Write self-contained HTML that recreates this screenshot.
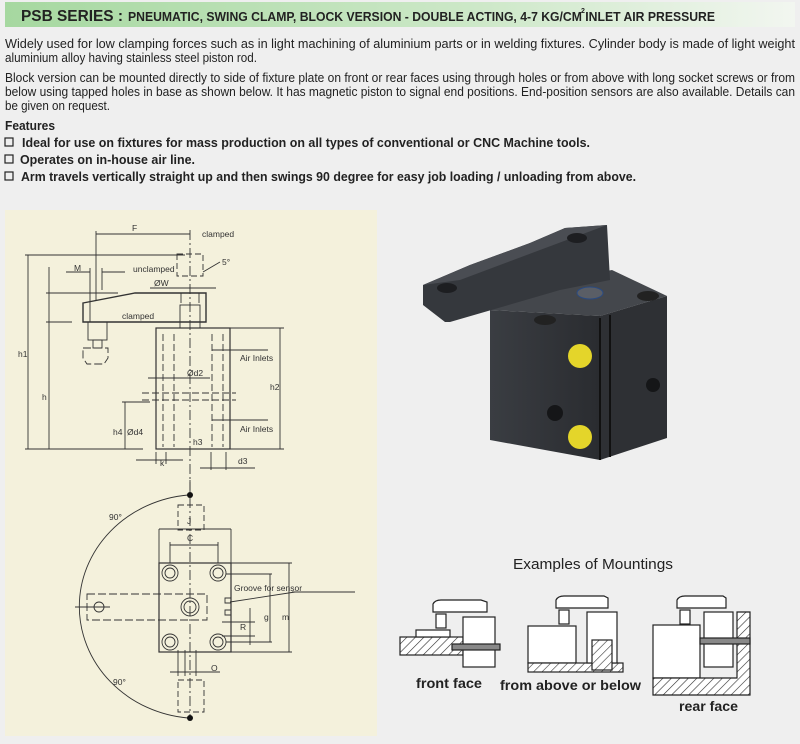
<!DOCTYPE html>
<html><head><meta charset="utf-8"><style>
html,body{margin:0;padding:0;background:#efefef}
svg{display:block}
text{font-family:"Liberation Sans",sans-serif;fill:#222}
.b{font-weight:bold}
.d{font-size:8.5px;fill:#333}
</style></head><body>
<svg width="800" height="744" viewBox="0 0 800 744" xmlns="http://www.w3.org/2000/svg">
<defs>
<linearGradient id="g" x1="0" x2="1"><stop offset="0" stop-color="#a6d8a0"/><stop offset="0.6" stop-color="#cde8c8"/><stop offset="1" stop-color="#f2f6f0"/></linearGradient>
<pattern id="h" width="6" height="6" patternUnits="userSpaceOnUse" patternTransform="rotate(45)"><rect width="6" height="6" fill="#fff"/><line x1="0" y1="0" x2="0" y2="6" stroke="#333" stroke-width="1.2"/></pattern>
<linearGradient id="bf" x1="0" x2="1"><stop offset="0" stop-color="#3a3d42"/><stop offset="1" stop-color="#2a2c30"/></linearGradient>
</defs>
<rect width="800" height="744" fill="#efefef"/>
<rect x="5" y="2" width="790" height="25" fill="url(#g)"/>
<text x="21" y="21" class="b" font-size="15.5" textLength="102" lengthAdjust="spacingAndGlyphs">PSB SERIES :</text>
<text x="128" y="21" class="b" font-size="13" textLength="587" lengthAdjust="spacingAndGlyphs">PNEUMATIC, SWING CLAMP, BLOCK VERSION - DOUBLE ACTING, 4-7 KG/CM  INLET AIR PRESSURE</text>
<text x="581" y="13" class="b" font-size="7">2</text>
<g font-size="12.5">
<text x="5" y="48" textLength="790" lengthAdjust="spacingAndGlyphs">Widely used for low clamping forces such as in light machining of aluminium parts or in welding fixtures. Cylinder body is made of light weight</text>
<text x="5" y="62" textLength="252" lengthAdjust="spacingAndGlyphs">aluminium alloy having stainless steel piston rod.</text>
<text x="5" y="82" textLength="790" lengthAdjust="spacingAndGlyphs">Block version can be mounted directly to side of fixture plate on front or rear faces using through holes or from above with long socket screws or from</text>
<text x="5" y="96" textLength="790" lengthAdjust="spacingAndGlyphs">below using tapped holes in base as shown below. It has magnetic piston to signal end positions. End-position sensors are also available. Details can</text>
<text x="5" y="110" textLength="105" lengthAdjust="spacingAndGlyphs">be given on request.</text>
<text x="5" y="130" class="b" textLength="50" lengthAdjust="spacingAndGlyphs">Features</text>
<text x="22" y="147" class="b" textLength="568" lengthAdjust="spacingAndGlyphs">Ideal for use on fixtures for mass production on all types of conventional or CNC Machine tools.</text>
<text x="20" y="164" class="b" textLength="175" lengthAdjust="spacingAndGlyphs">Operates on in-house air line.</text>
<text x="21" y="181" class="b" textLength="615" lengthAdjust="spacingAndGlyphs">Arm travels vertically straight up and then swings 90 degree for easy job loading / unloading from above.</text>
</g>
<g fill="none" stroke="#222" stroke-width="1.2">
<rect x="5" y="138" width="8" height="8"/><rect x="5" y="155" width="8" height="8"/><rect x="5" y="172" width="8" height="8"/>
</g>

<rect x="5" y="210" width="372" height="526" fill="#f4f1dc"/>
<g fill="none" stroke="#333" stroke-width="0.9">
<line x1="96" y1="234" x2="190" y2="234"/><line x1="96" y1="231" x2="96" y2="300"/>
<line x1="25" y1="255" x2="185" y2="255"/><line x1="28" y1="255" x2="28" y2="449"/>
<line x1="49" y1="267" x2="49" y2="449"/>
<line x1="25" y1="449" x2="143" y2="449"/>
<line x1="66" y1="272" x2="90" y2="272"/><line x1="102" y1="272" x2="125" y2="272"/>
<line x1="90" y1="268" x2="90" y2="322"/><line x1="102" y1="268" x2="102" y2="290"/>
<line x1="46" y1="293" x2="118" y2="293"/><line x1="46" y1="322" x2="72" y2="322"/>
<line x1="150" y1="288" x2="216" y2="288"/>
<path d="M83 303 L135 293 L206 293 L206 322 L83 322 Z" stroke-width="1.4"/>
<rect x="88" y="322" width="19" height="18"/><rect x="93" y="340" width="9" height="8"/>
<path d="M83 348 L108 348 L108 358 L104 364 L87 364 L83 358 Z" stroke-dasharray="8 3"/>
<rect x="177" y="254" width="26" height="22" stroke-dasharray="6 3"/>
<rect x="180" y="305" width="20" height="23"/>
<line x1="181" y1="293" x2="181" y2="303"/><line x1="199" y1="293" x2="199" y2="303"/>
<line x1="203" y1="272" x2="220" y2="262"/>
<rect x="156" y="328" width="74" height="121" stroke-width="1.2"/>
<g stroke-dasharray="7 3">
<line x1="163" y1="334" x2="163" y2="447"/><line x1="174" y1="334" x2="174" y2="447"/>
<line x1="212" y1="334" x2="212" y2="447"/><line x1="223" y1="334" x2="223" y2="447"/>
<line x1="142" y1="400" x2="236" y2="400"/><line x1="142" y1="393" x2="236" y2="393"/>
</g>
<line x1="190" y1="230" x2="190" y2="492" stroke-dasharray="10 3 2 3"/>
<line x1="148" y1="378" x2="210" y2="378"/>
<line x1="212" y1="350" x2="268" y2="350"/><line x1="212" y1="420" x2="268" y2="420"/>
<line x1="230" y1="328" x2="284" y2="328"/><line x1="230" y1="449" x2="284" y2="449"/>
<line x1="280" y1="328" x2="280" y2="449"/>
<line x1="122" y1="402" x2="150" y2="402"/><line x1="125" y1="402" x2="125" y2="449"/>
<line x1="136" y1="460" x2="183" y2="460"/><line x1="156" y1="452" x2="156" y2="464"/><line x1="166" y1="452" x2="166" y2="464"/>
<line x1="200" y1="468" x2="255" y2="468"/><line x1="211" y1="452" x2="211" y2="470"/><line x1="226" y1="452" x2="226" y2="470"/>
<path d="M188 495 A120 112 0 0 0 188 718"/>
<rect x="178" y="505" width="26" height="25" stroke-dasharray="6 3"/>
<rect x="178" y="680" width="26" height="32" stroke-dasharray="6 3"/>
<line x1="159" y1="529" x2="231" y2="529"/><line x1="159" y1="529" x2="159" y2="563"/><line x1="231" y1="529" x2="231" y2="563"/>
<line x1="170" y1="545" x2="218" y2="545"/><line x1="170" y1="542" x2="170" y2="563"/><line x1="218" y1="542" x2="218" y2="563"/>
<rect x="159" y="563" width="72" height="89" stroke-width="1.2"/>
<circle cx="170" cy="573" r="8"/><circle cx="170" cy="573" r="5"/>
<circle cx="218" cy="573" r="8"/><circle cx="218" cy="573" r="5"/>
<circle cx="170" cy="642" r="8"/><circle cx="170" cy="642" r="5"/>
<circle cx="218" cy="642" r="8"/><circle cx="218" cy="642" r="5"/>
<circle cx="190" cy="607" r="9"/><circle cx="190" cy="607" r="6"/>
<rect x="87" y="594" width="120" height="26" stroke-dasharray="8 3"/>
<circle cx="99" cy="607" r="5"/><line x1="75" y1="607" x2="110" y2="607"/>
<line x1="190" y1="480" x2="190" y2="720" stroke-dasharray="10 3 2 3"/>
<path d="M231 598 h-6 v5 h6 M231 610 h-6 v5 h6"/>
<line x1="230" y1="602" x2="295" y2="592"/><line x1="292" y1="592" x2="355" y2="592"/>
<line x1="231" y1="563" x2="292" y2="563"/><line x1="231" y1="652" x2="292" y2="652"/><line x1="289" y1="563" x2="289" y2="652"/>
<line x1="226" y1="574" x2="272" y2="574"/><line x1="226" y1="642" x2="272" y2="642"/><line x1="270" y1="574" x2="270" y2="642"/>
<line x1="222" y1="622" x2="255" y2="622"/><line x1="222" y1="636" x2="255" y2="636"/><line x1="250" y1="608" x2="250" y2="645"/>
<line x1="170" y1="672" x2="220" y2="672"/><line x1="178" y1="650" x2="178" y2="676"/><line x1="185" y1="650" x2="185" y2="676"/><line x1="196" y1="650" x2="196" y2="676"/>
</g>
<circle cx="190" cy="495" r="3" fill="#111"/><circle cx="190" cy="718" r="3" fill="#111"/>
<g class="d">
<text x="132" y="231" class="d">F</text>
<text x="202" y="237" class="d">clamped</text>
<text x="74" y="271" class="d">M</text>
<text x="133" y="272" class="d">unclamped</text>
<text x="222" y="265" class="d">5°</text>
<text x="154" y="286" class="d">ØW</text>
<text x="122" y="319" class="d">clamped</text>
<text x="18" y="357" class="d">h1</text>
<text x="42" y="400" class="d">h</text>
<text x="187" y="376" class="d">Ød2</text>
<text x="240" y="361" class="d">Air Inlets</text>
<text x="240" y="432" class="d">Air Inlets</text>
<text x="270" y="390" class="d">h2</text>
<text x="113" y="435" class="d">h4</text>
<text x="127" y="435" class="d">Ød4</text>
<text x="193" y="445" class="d">h3</text>
<text x="160" y="466" class="d">k</text>
<text x="238" y="464" class="d">d3</text>
<text x="187" y="524" class="d">J</text>
<text x="187" y="541" class="d">C</text>
<text x="109" y="520" class="d">90°</text>
<text x="113" y="685" class="d">90°</text>
<text x="234" y="591" class="d">Groove for sensor</text>
<text x="264" y="620" class="d">g</text>
<text x="282" y="620" class="d">m</text>
<text x="240" y="630" class="d">R</text>
<text x="211" y="671" class="d">O</text>
</g>

<polygon points="490,310 600,316 667,296 612,270 560,280" fill="#44474c"/>
<polygon points="490,310 600,316 600,460 490,440" fill="url(#bf)"/>
<polygon points="600,316 667,296 667,438 600,460" fill="#2e3034"/>
<line x1="600" y1="318" x2="600" y2="460" stroke="#111" stroke-width="2"/>
<line x1="610" y1="315" x2="610" y2="457" stroke="#111" stroke-width="2"/>
<ellipse cx="590" cy="293" rx="13" ry="6" fill="#5a5e66" stroke="#2a4a80"/>
<polygon points="423,285 470,265 530,243 565,228 607,225 610,280 560,290 450,322 445,322 423,305" fill="#35383d"/>
<polygon points="423,285 470,265 530,243 565,228 607,225 540,250 460,280" fill="#4a4d53"/>
<ellipse cx="447" cy="288" rx="10" ry="5" fill="#1d1e21"/>
<ellipse cx="577" cy="238" rx="10" ry="5" fill="#1d1e21"/>
<ellipse cx="545" cy="320" rx="11" ry="5" fill="#222"/>
<ellipse cx="648" cy="296" rx="11" ry="5" fill="#222"/>
<circle cx="580" cy="356" r="12" fill="#e4d52a"/>
<circle cx="580" cy="437" r="12" fill="#e4d52a"/>
<circle cx="555" cy="413" r="8" fill="#151618"/>
<circle cx="653" cy="385" r="7" fill="#151618"/>

<text x="513" y="569" font-size="15" textLength="160" lengthAdjust="spacingAndGlyphs">Examples of Mountings</text>
<g stroke="#222" stroke-width="1.2">
<rect x="400" y="637" width="63" height="18" fill="url(#h)"/>
<rect x="416" y="630" width="34" height="7" fill="#fff"/>
<rect x="463" y="617" width="32" height="50" fill="#fff"/>
<rect x="452" y="644" width="48" height="6" fill="#888"/>
<path d="M433 612 v-8 q2-4 8-4 h40 l6 2 v10 h-46 z" fill="#fff"/>
<rect x="436" y="614" width="10" height="14" fill="#fff"/>
<rect x="528" y="626" width="48" height="37" fill="#fff"/>
<rect x="528" y="663" width="95" height="9" fill="url(#h)"/>
<rect x="587" y="612" width="30" height="51" fill="#fff"/>
<rect x="592" y="640" width="20" height="30" fill="url(#h)"/>
<path d="M556 608 v-8 q2-4 8-4 h40 l4 2 v10 h-44 z" fill="#fff"/>
<rect x="559" y="610" width="10" height="14" fill="#fff"/>
<rect x="653" y="625" width="47" height="53" fill="#fff"/>
<path d="M653 678 h84 v-66 h13 v83 h-97 z" fill="url(#h)"/>
<rect x="704" y="612" width="29" height="55" fill="#fff"/>
<rect x="700" y="638" width="50" height="6" fill="#888"/>
<path d="M677 608 v-8 q2-4 8-4 h38 l3 2 v10 h-41 z" fill="#fff"/>
<rect x="680" y="610" width="10" height="14" fill="#fff"/>
</g>
<text x="416" y="688" class="b" font-size="14" textLength="66" lengthAdjust="spacingAndGlyphs">front face</text>
<text x="500" y="690" class="b" font-size="14" textLength="141" lengthAdjust="spacingAndGlyphs">from above or below</text>
<text x="679" y="711" class="b" font-size="14" textLength="59" lengthAdjust="spacingAndGlyphs">rear face</text>
</svg>
</body></html>
